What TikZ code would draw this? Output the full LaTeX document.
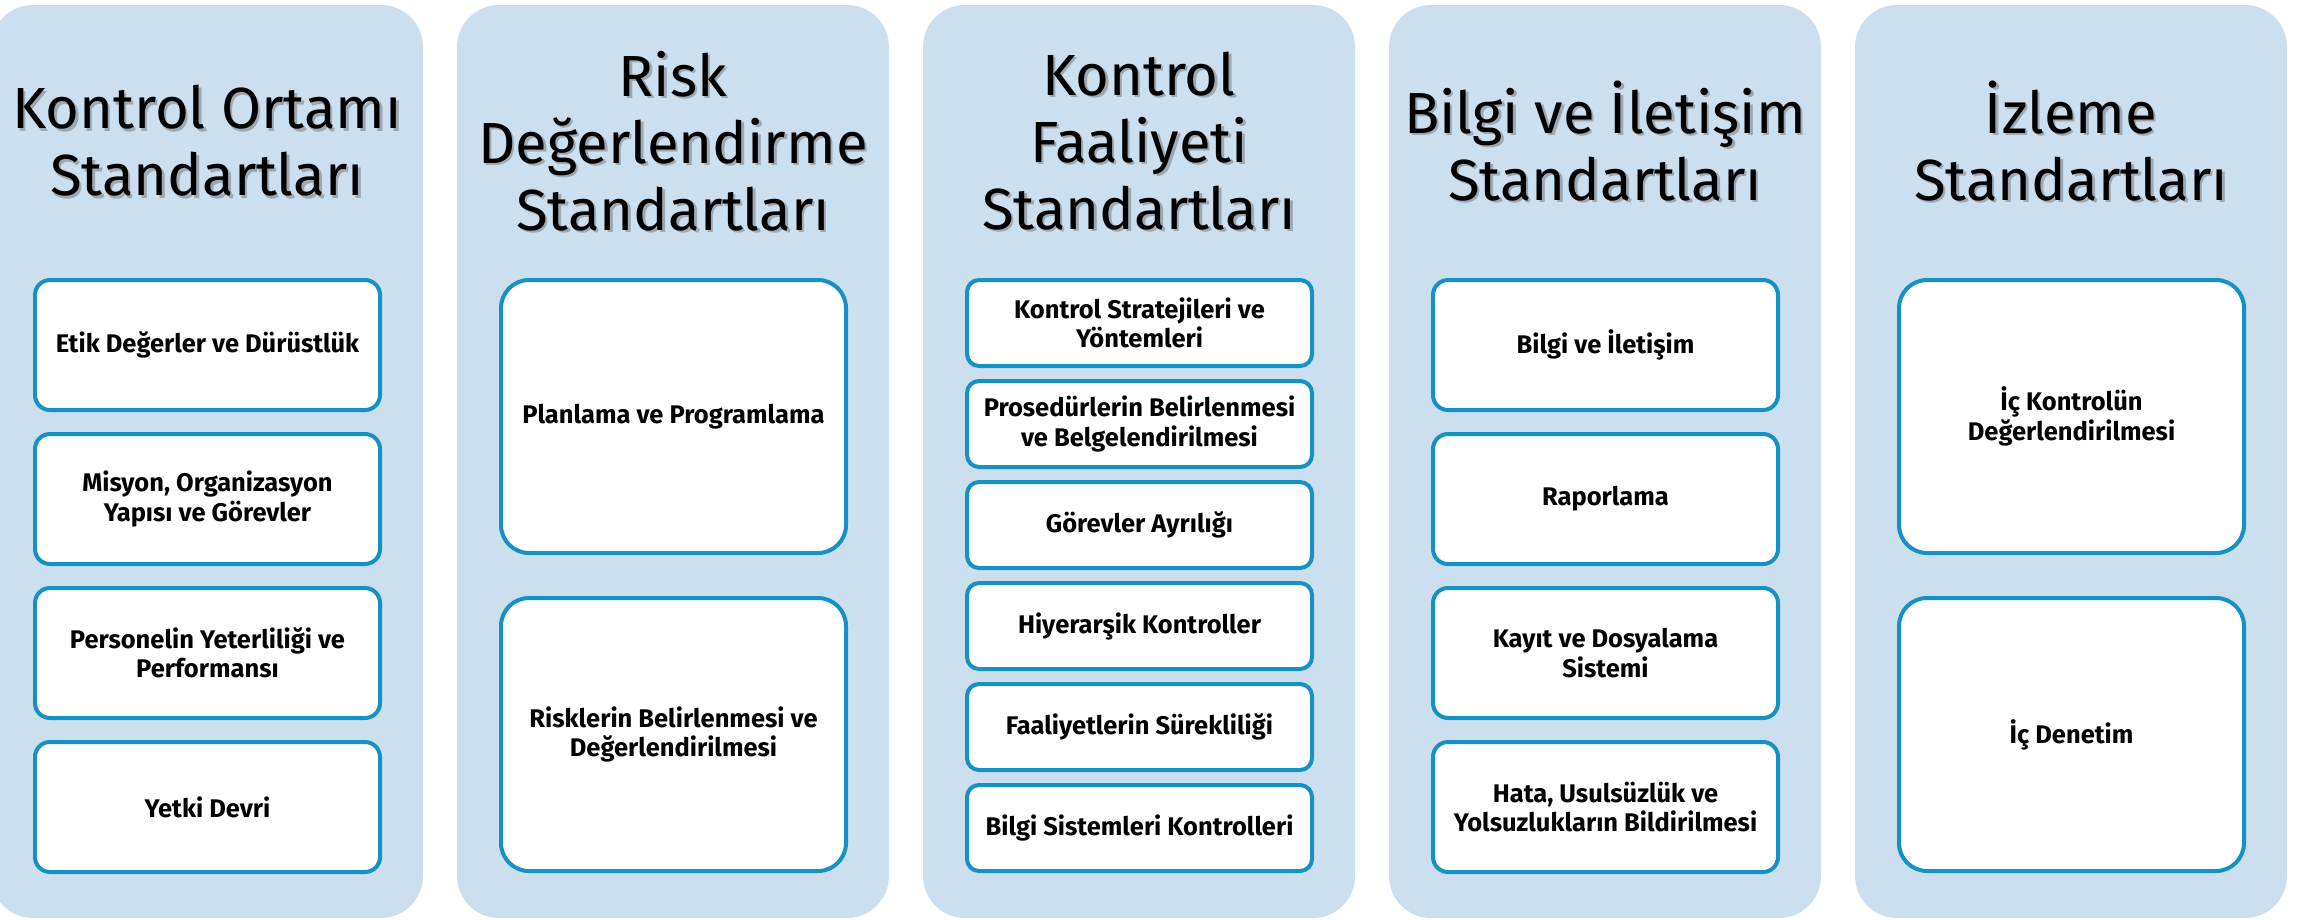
\documentclass[tikz,border=0pt]{standalone}
\usepackage{fontspec}
\setmainfont{Fira Sans}
\definecolor{panelblue}{RGB}{204,223,238}
\definecolor{itemblue}{RGB}{22,145,196}
\begin{document}
\begin{tikzpicture}[x=1pt,y=-1pt,
  panel/.style={fill=panelblue, rounded corners=42pt},
  title/.style={font=\fontsize{58}{67}\selectfont, align=center, text=black, inner sep=0pt},
  titleshadow/.style={title, text=black!60, opacity=0.45},
  item/.style={draw=itemblue, line width=4pt, fill=white, align=center,
    font=\fontsize{25.5}{29.5}\selectfont\bfseries, inner sep=0pt, minimum width=345pt},
  itemA/.style={item, rounded corners=15pt, minimum height=130pt},
  itemB/.style={item, rounded corners=28pt, minimum height=273pt},
  itemC/.style={item, rounded corners=12pt, minimum height=86pt},
]
\useasboundingbox[fill=white] (0,0) rectangle (2297,919);

% background panels
\path[panel] (-9,5)   rectangle (423,918);
\path[panel] (457,5)  rectangle (889,918);
\path[panel] (923,5)  rectangle (1355,918);
\path[panel] (1389,5) rectangle (1821,918);
\path[panel] (1855,5) rectangle (2287,918);

% column titles (soft shadow first, then the text)
\node[titleshadow] (t1s) at (209.5,143.5) {Kontrol Ortamı\\Standartları};
\node[title] (t1) at (207,141) {Kontrol Ortamı\\Standartları};
\node[titleshadow] (t2s) at (675.5,143.5) {Risk\\Değerlendirme\\Standartları};
\node[title] (t2) at (673,141) {Risk\\Değerlendirme\\Standartları};
\node[titleshadow] (t3s) at (1141.5,143.5) {Kontrol\\Faaliyeti\\Standartları};
\node[title] (t3) at (1139,141) {Kontrol\\Faaliyeti\\Standartları};
\node[titleshadow] (t4s) at (1607.5,143.5) {Bilgi ve İletişim\\Standartları};
\node[title] (t4) at (1605,141) {Bilgi ve İletişim\\Standartları};
\node[titleshadow] (t5s) at (2073.5,143.5) {İzleme\\Standartları};
\node[title] (t5) at (2071,141) {İzleme\\Standartları};

% Kontrol Ortamı
\node[itemA] (a1) at (207.5,345) {Etik Değerler ve Dürüstlük};
\node[itemA] (a2) at (207.5,499) {Misyon, Organizasyon\\Yapısı ve Görevler};
\node[itemA] (a3) at (207.5,653) {Personelin Yeterliliği ve\\Performansı};
\node[itemA] (a4) at (207.5,807) {Yetki Devri};

% Risk Değerlendirme
\node[itemB] (b1) at (673.5,416.5) {Planlama ve Programlama};
\node[itemB] (b2) at (673.5,734.5) {Risklerin Belirlenmesi ve\\Değerlendirilmesi};

% Kontrol Faaliyeti
\node[itemC] (c1) at (1139.5,323) {Kontrol Stratejileri ve\\Yöntemleri};
\node[itemC] (c2) at (1139.5,424) {Prosedürlerin Belirlenmesi\\ve Belgelendirilmesi};
\node[itemC] (c3) at (1139.5,525) {Görevler Ayrılığı};
\node[itemC] (c4) at (1139.5,626) {Hiyerarşik Kontroller};
\node[itemC] (c5) at (1139.5,727) {Faaliyetlerin Sürekliliği};
\node[itemC] (c6) at (1139.5,828) {Bilgi Sistemleri Kontrolleri};

% Bilgi ve İletişim
\node[itemA] (d1) at (1605.5,345) {Bilgi ve İletişim};
\node[itemA] (d2) at (1605.5,499) {Raporlama};
\node[itemA] (d3) at (1605.5,653) {Kayıt ve Dosyalama\\Sistemi};
\node[itemA] (d4) at (1605.5,807) {Hata, Usulsüzlük ve\\Yolsuzlukların Bildirilmesi};

% İzleme
\node[itemB] (e1) at (2071.5,416.5) {İç Kontrolün\\Değerlendirilmesi};
\node[itemB] (e2) at (2071.5,734.5) {İç Denetim};
\end{tikzpicture}
\end{document}
